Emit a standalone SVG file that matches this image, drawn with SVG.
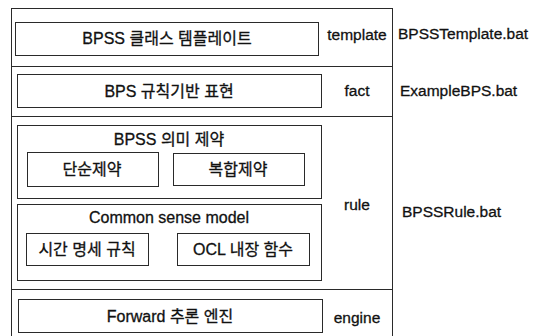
<svg xmlns="http://www.w3.org/2000/svg" width="544" height="336" viewBox="0 0 544 336">
<style>
rect{fill:none;stroke:#2a2a2a;stroke-width:1}
line{stroke:#2a2a2a;stroke-width:1}
text{font-family:"Liberation Sans","Noto Sans CJK KR",Arial,sans-serif;fill:#111;dominant-baseline:central;stroke:#111;stroke-width:0.3}
.n{font-size:16px;text-anchor:middle}
.l{font-size:15.5px}
.c{text-anchor:middle}
</style>
<rect width="544" height="336" fill="#fff" stroke="none" style="fill:#fff;stroke:none"/>
<g id="frame">
<line x1="11" y1="8.5" x2="392" y2="8.5"/>
<line x1="11.5" y1="8" x2="11.5" y2="336"/>
<line x1="392.5" y1="8" x2="392.5" y2="336"/>
</g>
<g id="layers">
<line x1="11" y1="66.5" x2="392" y2="66.5"/>
<line x1="11" y1="116.5" x2="392" y2="116.5"/>
<line x1="11" y1="289.5" x2="392" y2="289.5"/>
</g>
<g id="template">
<rect x="15.5" y="22.5" width="303" height="33"/>
<text class="n" x="167" y="38.5">BPSS 클래스 템플레이트</text>
<text class="l c" x="357" y="34">template</text>
<text class="l" x="398" y="33">BPSSTemplate.bat</text>
</g>
<g id="fact">
<rect x="17.5" y="74.5" width="304" height="33"/>
<text class="n" x="169" y="91">BPS 규칙기반 표현</text>
<text class="l c" x="357" y="90">fact</text>
<text class="l" x="400" y="90">ExampleBPS.bat</text>
</g>
<g id="rule">
<text class="l c" x="357" y="204">rule</text>
<text class="l" x="402" y="211">BPSSRule.bat</text>
</g>
<g id="semantic">
<rect x="17.5" y="125.5" width="304" height="73"/>
<text class="n" x="169" y="139">BPSS 의미 제약</text>
</g>
<g id="simple">
<rect x="27.5" y="152.5" width="131" height="34"/>
<text class="n" x="92" y="169">단순제약</text>
</g>
<g id="complex">
<rect x="173.5" y="153.5" width="131" height="32"/>
<text class="n" x="238" y="169">복합제약</text>
</g>
<g id="commonsense">
<rect x="17.5" y="204.5" width="304" height="76"/>
<text class="n" x="169" y="217">Common sense model</text>
</g>
<g id="timespec">
<rect x="26.5" y="233.5" width="122" height="32"/>
<text class="n" x="87" y="249">시간 명세 규칙</text>
</g>
<g id="ocl">
<rect x="177.5" y="233.5" width="132" height="32"/>
<text class="n" x="243" y="249">OCL 내장 함수</text>
</g>
<g id="engine">
<rect x="18.5" y="299.5" width="304" height="33"/>
<text class="n" x="170" y="316">Forward 추론 엔진</text>
<text class="l c" x="357" y="317">engine</text>
</g>
<g id="connectors"/>
</svg>
